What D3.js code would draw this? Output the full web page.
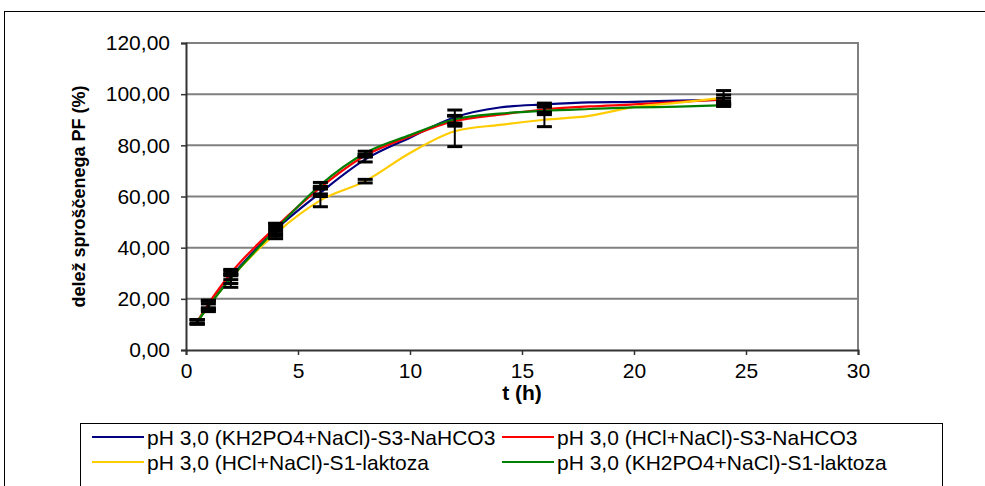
<!DOCTYPE html>
<html><head><meta charset="utf-8">
<script src="https://cdn.jsdelivr.net/npm/d3@7"></script>
<style>
html,body{margin:0;padding:0;background:#fff;}
svg{display:block;font-family:"Liberation Sans",Arial,sans-serif;}
</style></head>
<body><svg id="c" width="985" height="486"></svg>
<script>
// ---- data ----
const times = [0.5, 1, 2, 4, 6, 8, 10, 12, 14, 16, 18, 20, 22, 24];
const seriesNames = [
  "pH 3,0 (KH2PO4+NaCl)-S3-NaHCO3",
  "pH 3,0 (HCl+NaCl)-S3-NaHCO3",
  "pH 3,0 (HCl+NaCl)-S1-laktoza",
  "pH 3,0 (KH2PO4+NaCl)-S1-laktoza"
];
const blueVals   = [11, 17.5, 28.5, 47, 61.5, 74.5, 83, 91, 94.8, 96, 96.8, 97, 97.5, 97.8];
const redVals    = [11, 18, 30, 48, 63.5, 76, 83.5, 89.5, 92, 94, 95.2, 96, 97, 98];
const yellowVals = [11, 17, 28, 45.5, 58.5, 66, 77, 85.5, 88, 90, 91.5, 95, 96.7, 98.6];
const greenVals  = [11, 17, 28, 47, 64.5, 77, 84, 90.2, 92.4, 93.5, 94.2, 94.8, 95.1, 95.7];
const errTimes   = [0.5, 1, 2, 4, 6, 8, 12, 16, 24];
const blueErr    = [0.8, 1.8, 1, 1.5, 1.5, 1, 2.8, 0.5, 0.6];
const redErr     = [0.8, 1.5, 1, 1.5, 0.5, 0.5, 2, 1, 1.7];
const yellowErr  = [0.8, 2, 3.5, 2, 2.5, 0.7, 6, 2.7, 2.8];
const greenErr   = [0.8, 1, 2, 2.5, 1, 0.7, 1.5, 1.5, 0.5];
const xTicks = [0, 5, 10, 15, 20, 25, 30];
const yTicks = [0, 20, 40, 60, 80, 100, 120];
const colors = ["#000080", "#FF0000", "#FFCC00", "#008000"];
const xTitle = "t (h)";
const yTitle = "delež sproščenega PF (%)";

const allVals = [blueVals, redVals, yellowVals, greenVals];
const allErr = [blueErr, redErr, yellowErr, greenErr];
const FS = 21;

const svg = d3.select("#c");
// outer chart border
svg.append("rect").attr("x", 4.5).attr("y", 11.5).attr("width", 1000).attr("height", 500)
  .attr("fill", "#fff").attr("stroke", "#000").attr("stroke-width", 1);

const L = 186, R = 858, T = 43, B = 350;
const x = d3.scaleLinear().domain([0, 30]).range([L, R]);
const y = d3.scaleLinear().domain([0, 120]).range([B, T]);
const fmt = v => d3.format(".2f")(v).replace(".", ",");

// gridlines
svg.append("g").selectAll("line").data(yTicks.filter(d => d > 0)).join("line")
  .attr("x1", L).attr("x2", R).attr("y1", d => y(d)).attr("y2", d => y(d))
  .attr("stroke", "#808080").attr("stroke-width", 2);
// right border
svg.append("line").attr("x1", R).attr("x2", R).attr("y1", T - 1).attr("y2", B)
  .attr("stroke", "#808080").attr("stroke-width", 2);

// axes
const yAxis = svg.append("g").attr("transform", `translate(${L},0)`)
  .call(d3.axisLeft(y).tickValues(yTicks).tickFormat(fmt).tickSize(5).tickPadding(11));
const xAxis = svg.append("g").attr("transform", `translate(0,${B})`)
  .call(d3.axisBottom(x).tickValues(xTicks).tickSize(5).tickPadding(8));
[yAxis, xAxis].forEach(g => {
  g.select(".domain").attr("stroke", "#333").attr("stroke-width", 2);
  g.selectAll(".tick line").attr("stroke", "#333").attr("stroke-width", 1.5);
  g.selectAll("text").attr("font-size", FS).attr("fill", "#000")
    .attr("font-family", "'Liberation Sans', Arial, sans-serif");
});

// lines
const line = d3.line().x(d => x(d[0])).y(d => y(d[1])).curve(d3.curveMonotoneX);
allVals.forEach((vals, i) => {
  svg.append("path").datum(times.map((t, k) => [t, vals[k]]))
    .attr("d", line).attr("fill", "none").attr("stroke", colors[i]).attr("stroke-width", 2.2);
});

// error bars
const capW = 7.5;
allVals.forEach((vals, i) => {
  const g = svg.append("g");
  errTimes.forEach((t, k) => {
    const v = vals[times.indexOf(t)];
    const e = allErr[i][k];
    const cx = x(t);
    g.append("line").attr("x1", cx).attr("x2", cx).attr("y1", y(v - e)).attr("y2", y(v + e))
      .attr("stroke", "#000").attr("stroke-width", 2);
    [v - e, v + e].forEach(vv => {
      g.append("line").attr("x1", cx - capW).attr("x2", cx + capW)
        .attr("y1", y(vv)).attr("y2", y(vv)).attr("stroke", "#000").attr("stroke-width", 3);
    });
  });
});

// axis titles
svg.append("text").attr("x", (L + R) / 2).attr("y", 400)
  .attr("text-anchor", "middle").attr("font-size", FS).attr("font-weight", "bold").text(xTitle);
svg.append("text").attr("transform", `translate(85,${(T + B) / 2}) rotate(-90)`)
  .attr("text-anchor", "middle").attr("font-size", 18).attr("font-weight", "bold").text(yTitle);

// legend
const lg = svg.append("g");
lg.append("rect").attr("x", 80.5).attr("y", 423.5).attr("width", 862).attr("height", 80)
  .attr("fill", "#fff").attr("stroke", "#000").attr("stroke-width", 1);
const legPos = [[92, 437], [502, 437], [92, 462], [502, 462]];
seriesNames.forEach((name, i) => {
  const [lx, ly] = legPos[i];
  lg.append("line").attr("x1", lx).attr("x2", lx + 52).attr("y1", ly).attr("y2", ly)
    .attr("stroke", colors[i]).attr("stroke-width", 2.2);
  lg.append("text").attr("x", lx + 55).attr("y", ly + 7.5)
    .attr("font-size", FS).text(name);
});
</script></body></html>
